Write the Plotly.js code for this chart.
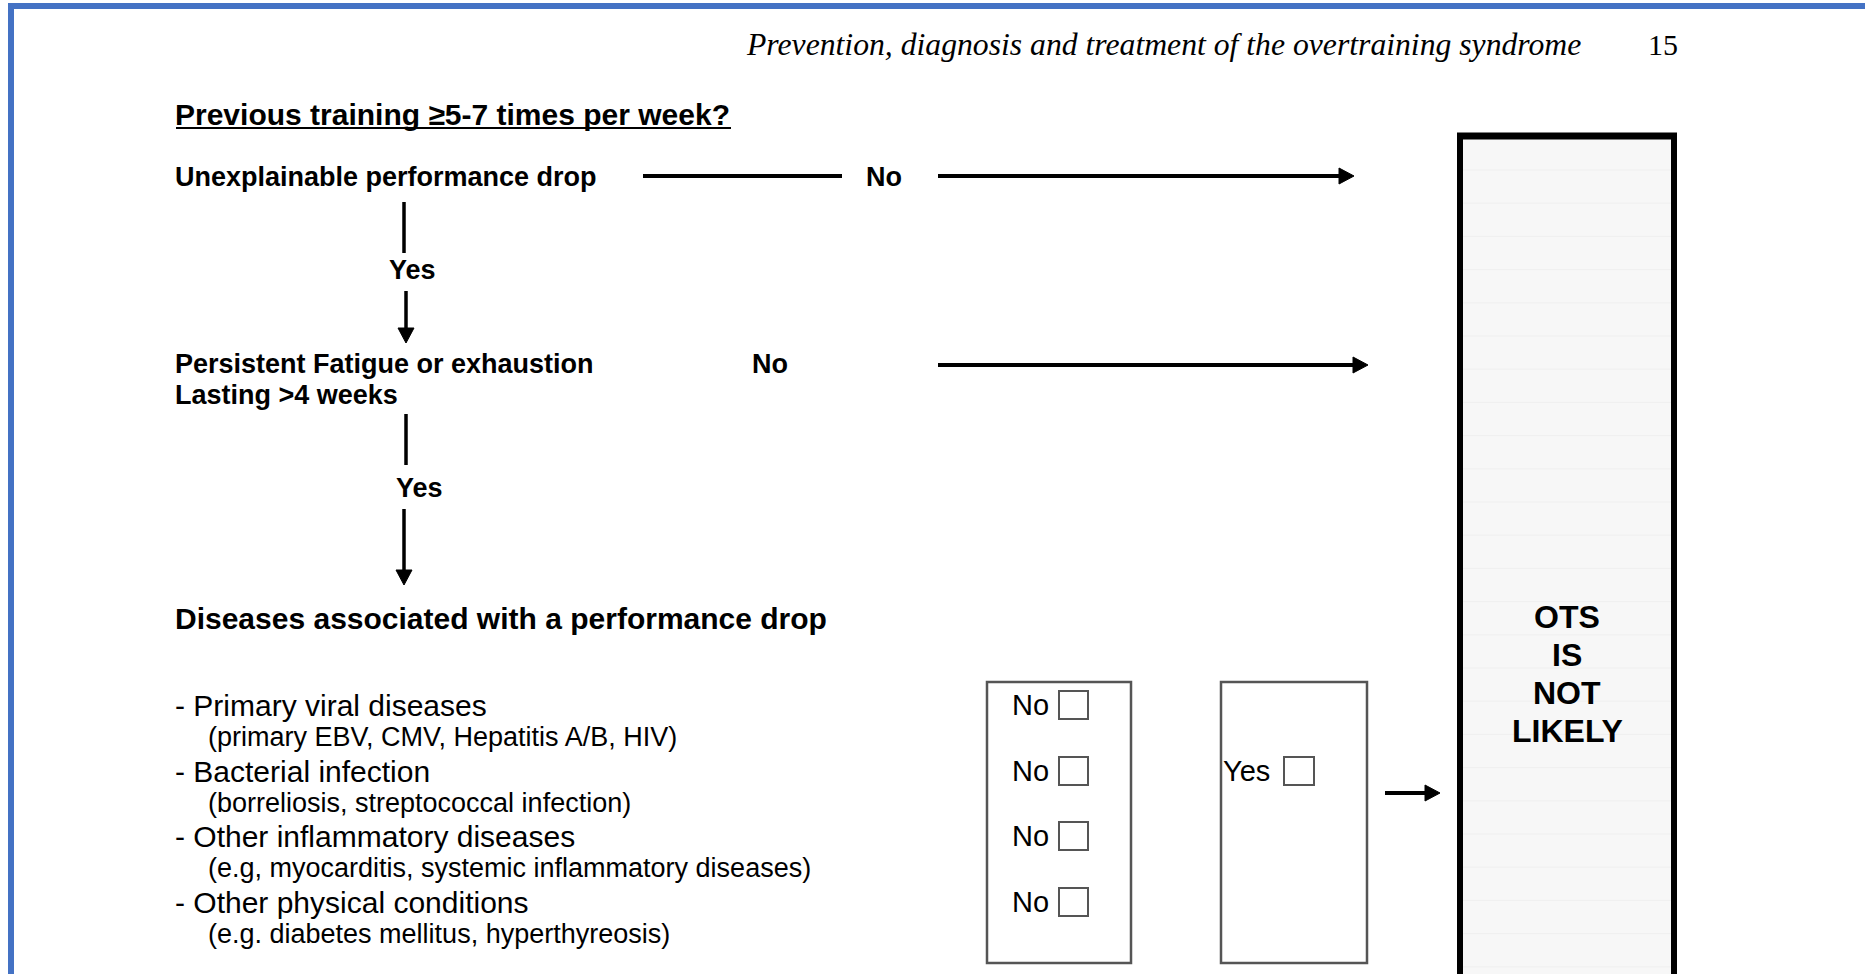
<!DOCTYPE html>
<html>
<head>
<meta charset="utf-8">
<script src="https://cdn.plot.ly/plotly-3.0.1.min.js"></script>
<style>html,body{margin:0;padding:0;background:#fff;}#chart{width:1865px;height:974px;}</style>
</head>
<body>
<div id="chart"></div>
<script>
// ---- content (text data) ----
const headerTitle = "Prevention, diagnosis and treatment of the overtraining syndrome";
const pageNumber = "15";
const question = "Previous training ≥5-7 times per week?";
const stepLabels = ["Unexplainable performance drop", "Persistent Fatigue or exhaustion", "Lasting >4 weeks"];
const branchYes = ["Yes", "Yes"];
const branchNo = ["No", "No"];
const diseaseHeading = "Diseases associated with a performance drop";
const diseaseItems = ["- Primary viral diseases", "- Bacterial infection", "- Other inflammatory diseases", "- Other physical conditions"];
const diseaseDetails = ["(primary EBV, CMV, Hepatitis A/B, HIV)", "(borreliosis, streptococcal infection)", "(e.g, myocarditis, systemic inflammatory diseases)", "(e.g. diabetes mellitus, hyperthyreosis)"];
const noAnswers = ["No", "No", "No", "No"];
const yesAnswers = ["", "Yes", "", ""];
const verdictLines = ["OTS", "IS", "NOT", "LIKELY"];

// ---- layout helpers ----
const SANS = "Liberation Sans, Arial, sans-serif";
const SERIF = "Liberation Serif, Times New Roman, serif";
const shapes = [];
const annotations = [];

function txt(text, x, y, size, opts) {
  opts = opts || {};
  annotations.push({
    text: opts.bold ? "<b>" + text + "</b>" : (opts.italic ? "<i>" + text + "</i>" : text),
    x: x, y: y, xref: "x", yref: "y",
    xanchor: opts.xanchor || "left", yanchor: "middle",
    showarrow: false, borderpad: 0,
    font: {family: opts.family || SANS, size: size, color: "#000"}
  });
}
function line(x0, y0, x1, y1, w, c) {
  shapes.push({type: "line", xref: "x", yref: "y", x0: x0, y0: y0, x1: x1, y1: y1,
    line: {color: c || "#000", width: w || 4}});
}
function rect(x0, y0, x1, y1, w, c, fill) {
  shapes.push({type: "rect", xref: "x", yref: "y", x0: x0, y0: y0, x1: x1, y1: y1,
    line: {color: c || "#000", width: w}, fillcolor: fill || "rgba(0,0,0,0)"});
}
function arrow(x0, y0, x1, y1) {
  const L = 15, H = 8;
  if (y0 === y1) {
    line(x0, y0, x1 - L + 2, y1, 4);
    shapes.push({type: "path", xref: "x", yref: "y",
      path: `M ${x1 - L} ${y1 - H} L ${x1} ${y1} L ${x1 - L} ${y1 + H} Z`,
      fillcolor: "#000", line: {color: "#000", width: 1}});
  } else {
    line(x0, y0, x1, y1 - L + 2, 3.5);
    shapes.push({type: "path", xref: "x", yref: "y",
      path: `M ${x1 - H} ${y1 - L} L ${x1} ${y1} L ${x1 + H} ${y1 - L} Z`,
      fillcolor: "#000", line: {color: "#000", width: 1}});
  }
}

// page frame (blue)
line(11, 974, 11, 6, 6, "#4472C4");
line(8, 6, 1865, 6, 6, "#4472C4");

// header
txt(headerTitle, 1582, 44, 31.7, {italic: true, family: SERIF, xanchor: "right"});
txt(pageNumber, 1663, 44, 30, {family: SERIF, xanchor: "center"});

// question
txt(question, 174, 114, 30, {bold: true});
line(176, 128, 731, 128, 2);

// step 1
txt(stepLabels[0], 174, 177, 27, {bold: true});
line(643, 176, 842, 176, 4);
txt(branchNo[0], 884, 177, 27, {bold: true, xanchor: "center"});
arrow(938, 176, 1354, 176);
line(404, 202, 404, 253, 3.5);
txt(branchYes[0], 412, 270, 27, {bold: true, xanchor: "center"});
arrow(406, 291, 406, 343);

// step 2
txt(stepLabels[1], 174, 364, 27, {bold: true});
txt(stepLabels[2], 174, 395, 27, {bold: true});
txt(branchNo[1], 770, 364, 27, {bold: true, xanchor: "center"});
arrow(938, 365, 1368, 365);
line(406, 414, 406, 465, 3.5);
txt(branchYes[1], 419, 488, 27, {bold: true, xanchor: "center"});
arrow(404, 509, 404, 585);

// diseases
txt(diseaseHeading, 174, 618, 30, {bold: true});
const rowY = [705, 771, 836, 902];
diseaseItems.forEach((t, i) => txt(t, 174, rowY[i], 30));
diseaseDetails.forEach((t, i) => txt(t, 207, rowY[i] + 32, 27));

// answer boxes
rect(987, 682, 1131, 963, 2.5, "#555");
rect(1221, 682, 1367, 963, 2.5, "#555");
noAnswers.forEach((t, i) => {
  if (!t) return;
  txt(t, 1011, rowY[i], 29);
  rect(1059, rowY[i] - 14, 1088, rowY[i] + 14, 2, "#555");
});
yesAnswers.forEach((t, i) => {
  if (!t) return;
  txt(t, 1222, rowY[i], 29);
  rect(1284, rowY[i] - 14, 1314, rowY[i] + 14, 2, "#555");
});
arrow(1385, 793, 1440, 793);

// verdict box
rect(1460, 133, 1674, 1010, 0, "#000", "#f7f7f7");
for (let y = 170; y < 974; y += 33.2) {
  shapes.push({type: "line", xref: "x", yref: "y", x0: 1463, x1: 1671, y0: y, y1: y,
    line: {color: "#efefef", width: 1}});
}
line(1460, 136, 1460, 1010, 6);
line(1674, 136, 1674, 1010, 6);
line(1457, 136, 1677, 136, 7);
const vY = [617, 655, 693, 731];
verdictLines.forEach((t, i) => txt(t, 1567, vY[i], 32, {bold: true, xanchor: "center"}));

const layout = {
  width: 1865, height: 974,
  margin: {l: 0, r: 0, t: 0, b: 0, pad: 0},
  paper_bgcolor: "#fff", plot_bgcolor: "#fff",
  xaxis: {range: [0, 1865], visible: false, showgrid: false, zeroline: false, fixedrange: true},
  yaxis: {range: [974, 0], visible: false, showgrid: false, zeroline: false, fixedrange: true},
  showlegend: false,
  shapes: shapes,
  annotations: annotations
};
Plotly.newPlot("chart", [{x: [], y: [], type: "scatter", mode: "markers", hoverinfo: "skip"}], layout, {displayModeBar: false, staticPlot: true});
</script>
</body>
</html>
